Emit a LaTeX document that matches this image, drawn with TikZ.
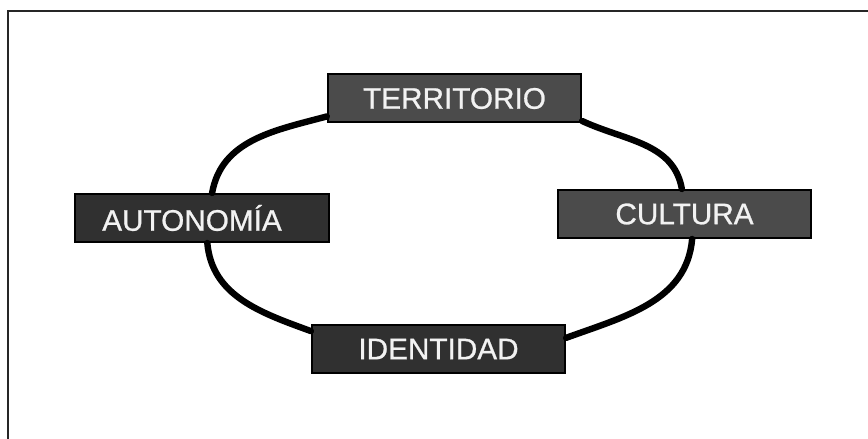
\documentclass[tikz,border=0pt]{standalone}
\usepackage{fontspec}
\setmainfont{Liberation Sans}
\newfontfamily\Begriff{Liberation Sans}[FakeBold=0.8]
\usepackage{tikz}
\usetikzlibrary{positioning}
\definecolor{KastenHell}{HTML}{4B4B4B}
\definecolor{KastenDunkel}{HTML}{303030}
\definecolor{Schrift}{HTML}{F2F2F2}
\tikzset{
  Kasten/.style={draw=black, line width=1.5pt, fill=#1, text=Schrift,
    minimum width=190pt, minimum height=36pt, inner sep=0pt}, % für Begriffe
  Bogen/.style={line width=4.8pt, black, line cap=round} % für Verbindungen
}

\begin{document}
\begin{tikzpicture}[
x=0.75pt, y=0.75pt,
font=\Begriff\fontsize{22.3}{26}\selectfont
]
\useasboundingbox (0,0) rectangle (868,439);

%Rahmen
\draw[line width=1.5pt, black!85] (8,0) -- (8,428) -- (868,428);

%Begriffe
\node[Kasten=KastenHell]  (terr) at (454.5,340.5) {TERRITORIO};
\node[Kasten=KastenDunkel] (auto) at (202,221) {AUTONOMÍA\hspace*{15pt}};
\node[Kasten=KastenHell]  (cult) at (684.5,225) {CULTURA};
\node[Kasten=KastenDunkel] (iden) at (438.5,90) {IDENTIDAD};

%Verbindungen
\draw[Bogen] (auto.68) to[out=80, in=195] (terr.188);
\draw[Bogen] (terr.350) to[out=-25, in=100] (cult.96);
\draw[Bogen] (cult.-73) to[out=-95, in=20] (iden.5);
\draw[Bogen] (auto.-78) to[out=-85, in=160] (iden.172);

\end{tikzpicture}
\end{document}
